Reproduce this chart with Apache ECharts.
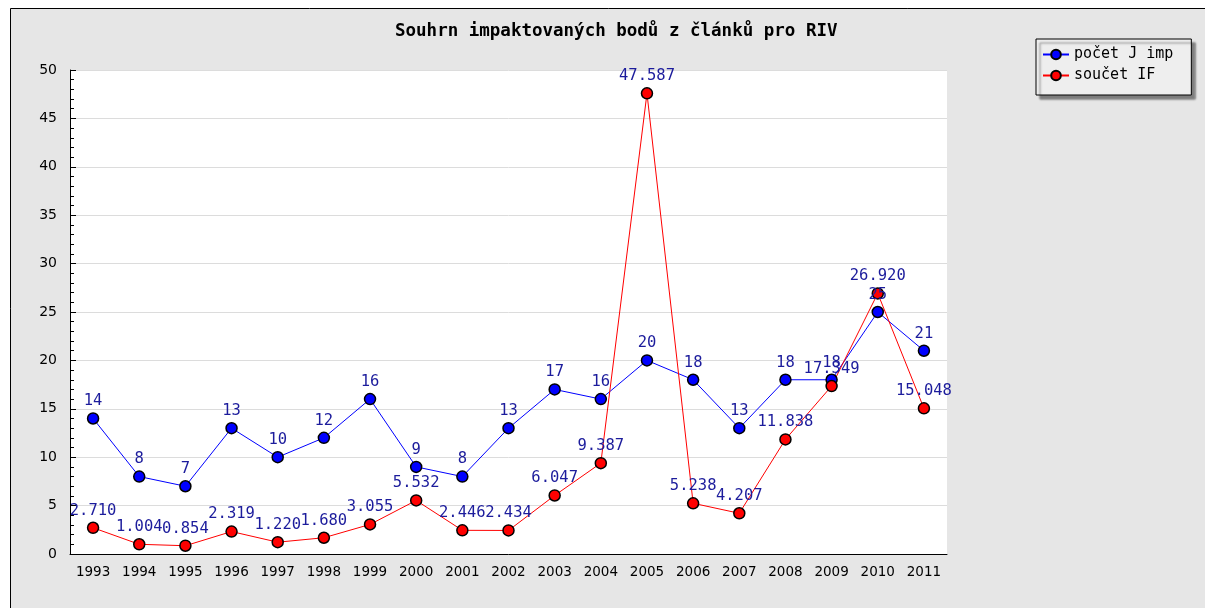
<!DOCTYPE html>
<html>
<head>
<meta charset="utf-8">
<script src="https://cdn.jsdelivr.net/npm/echarts@6/dist/echarts.min.js"></script>
<style>
  html, body { margin: 0; padding: 0; background: #fff; }
  #chart { width: 1205px; height: 608px; }
</style>
</head>
<body>
<div id="chart"></div>
<script>
var years = ['1993', '1994', '1995', '1996', '1997', '1998', '1999', '2000', '2001', '2002',
  '2003', '2004', '2005', '2006', '2007', '2008', '2009', '2010', '2011']
var pocetJImp = [14, 8, 7, 13, 10, 12, 16, 9, 8, 13, 17, 16, 20, 18, 13, 18, 18, 25, 21]
var soucetIF = [2.710, 1.004, 0.854, 2.319, 1.220, 1.680, 3.055, 5.532, 2.446, 2.434,
  6.047, 9.387, 47.587, 5.238, 4.207, 11.838, 17.349, 26.920, 15.048]
var seriesNames = ['počet J imp', 'součet IF']

var mono = 'DejaVu Sans Mono'
var labelColor = '#1c1c9c'

var chart = echarts.init(document.getElementById('chart'))

function lineSeries(name, data, color, digits) {
  return {
    name: name,
    type: 'line',
    data: data,
    symbol: 'circle',
    symbolSize: 11,
    itemStyle: { color: color, borderColor: '#000', borderWidth: 1.5 },
    lineStyle: { color: color, width: 1 },
    emphasis: { disabled: true },
    label: {
      show: true,
      position: 'top',
      distance: 3,
      color: labelColor,
      fontFamily: mono,
      fontSize: 15.5,
      formatter: function (p) { return p.value.toFixed(digits) }
    },
    animation: false
  }
}

chart.setOption({
  backgroundColor: '#fff',
  graphic: [{
    type: 'rect',
    silent: true,
    z: -10,
    shape: { x: 10.5, y: 8.5, width: 1300, height: 700 },
    style: { fill: '#e6e6e6', stroke: '#000', lineWidth: 1 }
  }],
  title: {
    text: 'Souhrn impaktovaných bodů z článků pro RIV',
    left: 390,
    top: 17,
    textStyle: { fontFamily: mono, fontSize: 17.5, fontWeight: 'bold', color: '#000' }
  },
  legend: {
    data: seriesNames,
    orient: 'vertical',
    left: 1036,
    top: 39,
    width: 158,
    padding: [8, 18, 12, 6],
    itemGap: 6,
    itemWidth: 26,
    itemHeight: 12,
    backgroundColor: '#eeeeee',
    borderColor: '#000',
    borderWidth: 1,
    shadowColor: 'rgba(0,0,0,0.45)',
    shadowBlur: 2,
    shadowOffsetX: 4,
    shadowOffsetY: 4,
    textStyle: { fontFamily: mono, fontSize: 15, color: '#000' }
  },
  grid: { left: 70, right: 258, top: 70, bottom: 54, show: true, backgroundColor: '#fff', borderWidth: 0 },
  xAxis: {
    type: 'category',
    data: years,
    boundaryGap: true,
    axisLine: { lineStyle: { color: '#000', width: 1 } },
    axisTick: { alignWithLabel: true, inside: true, interval: 0, length: 6, lineStyle: { color: '#000' } },
    axisLabel: { interval: 0, color: '#000', fontFamily: 'DejaVu Sans', fontSize: 13.5, margin: 11 }
  },
  yAxis: {
    type: 'value',
    min: 0,
    max: 50,
    interval: 5,
    axisLine: { show: true, lineStyle: { color: '#000', width: 1 } },
    axisTick: { show: true, inside: true, length: 6, lineStyle: { color: '#000' } },
    minorTick: { show: true, splitNumber: 5, length: 4, lineStyle: { color: '#000' } },
    splitLine: { lineStyle: { color: '#dcdcdc', width: 1 } },
    axisLabel: { color: '#000', fontFamily: 'DejaVu Sans', fontSize: 14, margin: 13 }
  },
  series: [
    lineSeries(seriesNames[0], pocetJImp, '#0000ff', 0),
    lineSeries(seriesNames[1], soucetIF, '#ff0000', 3)
  ]
})
</script>
</body>
</html>
